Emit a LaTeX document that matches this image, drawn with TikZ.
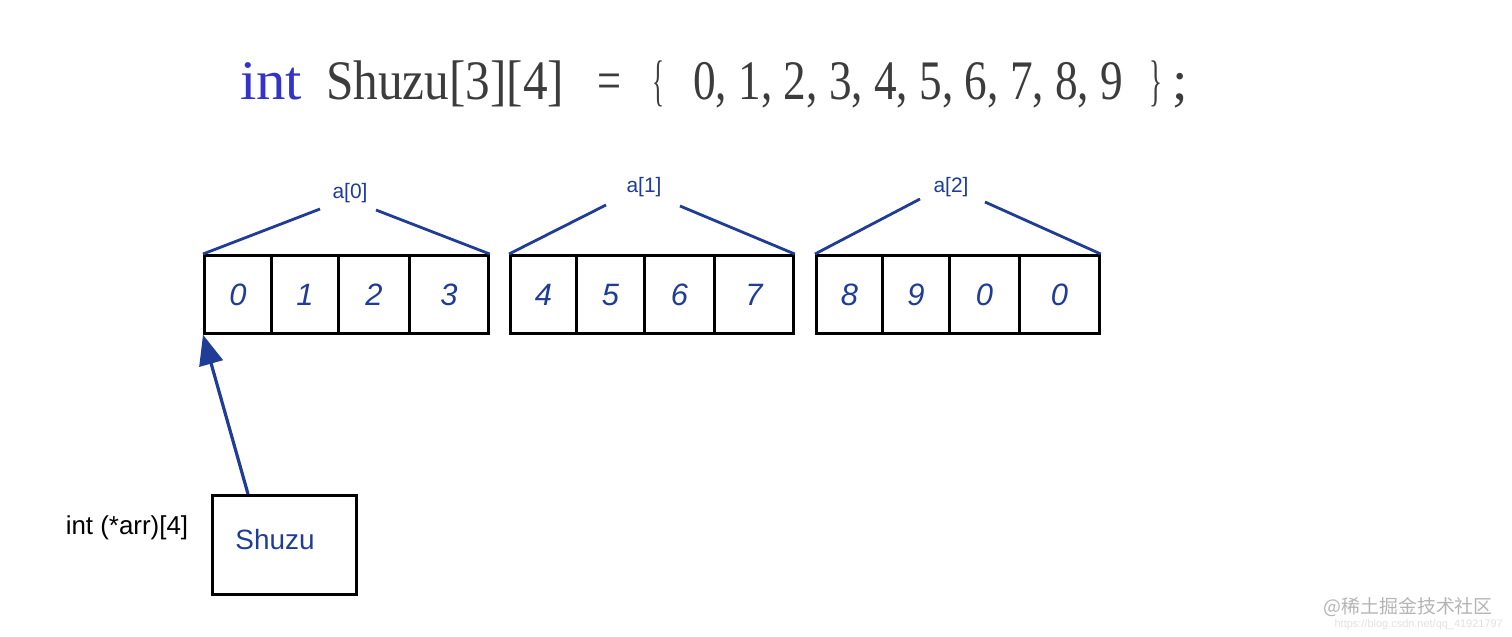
\documentclass[tikz,border=0pt]{standalone}
\usepackage{fontspec}
\setmainfont{Liberation Serif}
\newfontfamily\lsans{Liberation Sans}
\newfontfamily\cjkfont{Noto Sans CJK SC}
\usetikzlibrary{arrows.meta}
\definecolor{lineblue}{HTML}{1F3C96}
\definecolor{kwblue}{HTML}{3333CC}
\definecolor{codegray}{HTML}{3C3C3C}
\definecolor{wmgray}{HTML}{B4B4B4}
\begin{document}
\begin{tikzpicture}[x=1bp,y=-1bp,
  cell/.style={draw=black,line width=2.7bp,minimum height=78bp,inner sep=0pt,anchor=north west,
    text depth=0pt,text height=22bp,
    font=\lsans\itshape\fontsize{31}{31}\selectfont,text=lineblue},
  brace/.style={draw=lineblue,line width=2.8bp},
  code/.style={anchor=base west,inner sep=0pt,text=codegray,font=\fontsize{56}{56}\selectfont},
  lbl/.style={font=\lsans\fontsize{21}{21}\selectfont,text=lineblue,inner sep=0pt}]
\useasboundingbox (0,0) rectangle (1512,637);
% title
\node[code,text=kwblue] (t1) at (240,100) {\resizebox{62bp}{\height}{int}};
\node[code] (t2) at (326,100) {\resizebox{238bp}{\height}{Shuzu[3][4]}};
\node[code] (t3) at (597,100) {\resizebox{24bp}{\height}{=}};
\node[code] (t4) at (652,100) {\resizebox{12bp}{\height}{\{}};
\node[code] (t5) at (693,100) {\resizebox{430bp}{\height}{0, 1, 2, 3, 4, 5, 6, 7, 8, 9}};
\node[code] (t6) at (1149,100) {\resizebox{13bp}{\height}{\}}};
\node[code] (t7) at (1172,100) {;};
% group 0
\node[cell,minimum width=67bp] (c00) at (203,254) {0};
\node[cell,minimum width=67bp] (c01) at (270,254) {1};
\node[cell,minimum width=71bp] (c02) at (337,254) {2};
\node[cell,minimum width=79bp] (c03) at (408,254) {3};
% group 1
\node[cell,minimum width=66bp] (c10) at (509,254) {4};
\node[cell,minimum width=68bp] (c11) at (575,254) {5};
\node[cell,minimum width=70bp] (c12) at (643,254) {6};
\node[cell,minimum width=79bp] (c13) at (713,254) {7};
% group 2
\node[cell,minimum width=66bp] (c20) at (815,254) {8};
\node[cell,minimum width=67bp] (c21) at (881,254) {9};
\node[cell,minimum width=70bp] (c22) at (948,254) {0};
\node[cell,minimum width=80bp] (c23) at (1018,254) {0};
% labels and braces
\node[lbl] (a0) at (350,193) {a[0]};
\node[lbl] (a1) at (644,187) {a[1]};
\node[lbl] (a2) at (951,187) {a[2]};
\coordinate (a0l) at (320,209); \coordinate (a0r) at (376,210);
\coordinate (a1l) at (606,205); \coordinate (a1r) at (680,206);
\coordinate (a2l) at (920,199); \coordinate (a2r) at (985,202);
\draw[brace] (c00.north west) -- (a0l);
\draw[brace] (a0r) -- (c03.north east);
\draw[brace] (c10.north west) -- (a1l);
\draw[brace] (a1r) -- (c13.north east);
\draw[brace] (c20.north west) -- (a2l);
\draw[brace] (a2r) -- (c23.north east);
% pointer
\node[draw=black,line width=3bp,minimum width=144bp,minimum height=99bp,anchor=north west,inner sep=0pt] (ptr) at (211,494) {};
\node[font=\lsans\fontsize{28}{28}\selectfont,text=lineblue,inner sep=0pt] (shuzu) at (275,540) {Shuzu};
\node[font=\lsans\fontsize{26}{26}\selectfont,inner sep=0pt] (decl) at (127,528) {int (*arr)[4]};
\coordinate (ptrtop) at (248,494);
\draw[draw=lineblue,line width=3.2bp,-{Triangle[length=30bp,width=24bp]},fill=lineblue] (ptrtop) -- (c00.south west);
% watermark
\node[font=\cjkfont\fontsize{19}{19}\selectfont,text=wmgray,anchor=east,inner sep=0pt] (wm) at (1493,607) {@稀土掘金技术社区};
\node[font=\lsans\fontsize{11}{11}\selectfont,text=wmgray!40,anchor=east,inner sep=0pt] (wm2) at (1503,625) {https://blog.csdn.net/qq\_41921797};
\end{tikzpicture}
\end{document}
